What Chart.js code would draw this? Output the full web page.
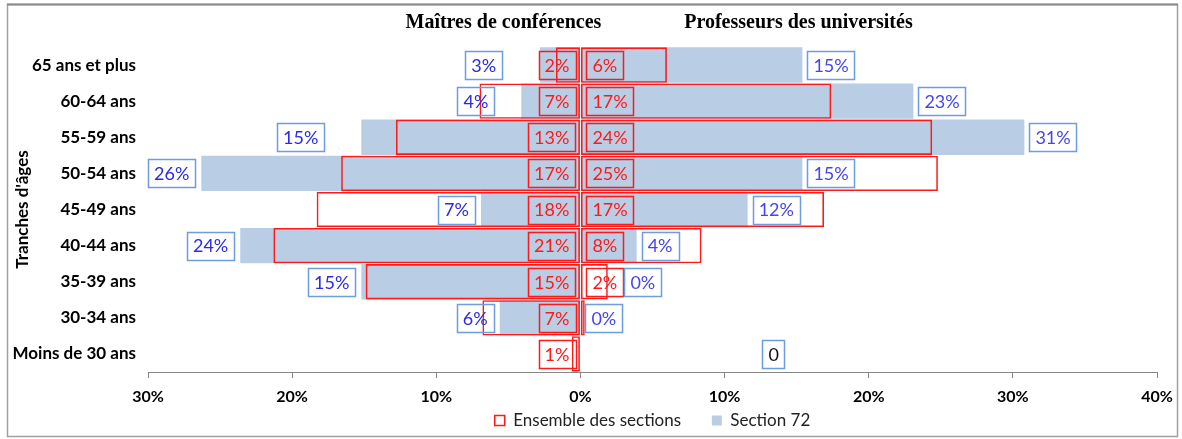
<!DOCTYPE html>
<html><head><meta charset="utf-8">
<script src="https://cdn.jsdelivr.net/npm/chart.js@4.4.1/dist/chart.umd.min.js"></script>
<style>html,body{margin:0;padding:0;background:#fff;overflow:hidden}#wrap{position:relative;width:1182px;height:439px}</style>
</head><body><div id="wrap"><canvas id="c" width="1182" height="439"></canvas></div>
<script>
// ---- data (percent) ----
const categories = ['65 ans et plus','60-64 ans','55-59 ans','50-54 ans','45-49 ans','40-44 ans','35-39 ans','30-34 ans','Moins de 30 ans'];
const mcfEnsemble   = [1.7, 7.0, 12.8, 16.6, 18.3, 21.3, 14.9, 6.8, 0.6];
const profEnsemble  = [6.0, 17.4, 24.4, 24.8, 16.9, 8.4, 1.9, 0.3, 0];
const mcfSection72  = [2.8, 4.1, 15.2, 26.3, 6.9, 23.6, 15.2, 5.6, null];
const profSection72 = [15.4, 23.1, 30.8, 15.4, 11.6, 3.9, 0, 0, 0];
const profSection72Text = {8: '0'};
const xTickValues = [-30, -20, -10, 0, 10, 20, 30, 40];
const seriesNames = ['Ensemble des sections', 'Section 72'];
const groupTitles = ['Maîtres de conférences', 'Professeurs des universités'];
const axisTitle = "Tranches d'âges";

// ---- style ----
const RED = '#ff1a1a';
const BLUE_FILL = '#b9cde4';
const BLUE_BORDER = '#6d9de0';
const labelNudgeMcf72 = {0: -32, 1: -21, 2: -31};
const labelNudgeProf72 = {6: 39, 8: 177};

const neg = a => a.map(v => v == null ? null : -v);
const common = {grouped: false, barPercentage: 0.98, categoryPercentage: 1};

const datasets = [
  Object.assign({label: seriesNames[0], data: neg(mcfEnsemble), src: mcfEnsemble, kind: 'red', side: -1,
    backgroundColor: 'rgba(0,0,0,0)', borderColor: RED, borderWidth: 1.6, borderSkipped: false}, common),
  Object.assign({label: seriesNames[0], data: profEnsemble, src: profEnsemble, kind: 'red', side: 1,
    backgroundColor: 'rgba(0,0,0,0)', borderColor: RED, borderWidth: 1.6, borderSkipped: false}, common),
  Object.assign({label: seriesNames[1], data: neg(mcfSection72), src: mcfSection72, kind: 'blue', side: -1,
    nudge: labelNudgeMcf72, backgroundColor: BLUE_FILL, borderWidth: 0}, common),
  Object.assign({label: seriesNames[1], data: profSection72, src: profSection72, kind: 'blue', side: 1,
    nudge: labelNudgeProf72, textOverride: profSection72Text, backgroundColor: BLUE_FILL, borderWidth: 0}, common)
];

const framePlugin = {
  id: 'frame',
  beforeDraw(chart) {
    const ctx = chart.ctx;
    ctx.save();
    ctx.fillStyle = '#fff';
    ctx.fillRect(0, 0, chart.width, chart.height);
    ctx.strokeStyle = '#a0a0a0';
    ctx.lineWidth = 1.5;
    ctx.strokeRect(7.5, 4.5, 1170, 432);
    ctx.strokeStyle = '#8a8a8a';
    ctx.lineWidth = 2;
    ctx.beginPath(); ctx.moveTo(7, 4.5); ctx.lineTo(1178, 4.5); ctx.stroke();
    ctx.restore();
  },
  afterDraw(chart) {
    const ctx = chart.ctx;
    const zero = chart.scales.x.getPixelForValue(0);
    ctx.save();
    ctx.font = 'bold 20px "Liberation Serif"';
    ctx.fillStyle = '#000';
    ctx.textBaseline = 'middle';
    ctx.textAlign = 'center';
    ctx.fillText(groupTitles[0], zero - 77, 23);
    ctx.fillText(groupTitles[1], zero + 218, 23);
    ctx.restore();
  }
};

const labelPlugin = {
  id: 'valueLabels',
  afterDatasetsDraw(chart) {
    const ctx = chart.ctx;
    const zero = chart.scales.x.getPixelForValue(0);
    ctx.save();
    ctx.font = '18px Lato';
    ctx.textBaseline = 'middle';
    ctx.textAlign = 'center';
    chart.data.datasets.forEach((ds, di) => {
      const meta = chart.getDatasetMeta(di);
      meta.data.forEach((bar, i) => {
        const v = ds.src[i];
        if (v == null) return;
        if (ds.kind === 'red' && Math.round(v) === 0) return;
        const text = (ds.textOverride && ds.textOverride[i] != null) ? ds.textOverride[i] : Math.round(v) + '%';
        const w = ctx.measureText(text).width + 12, h = 28;
        let left;
        if (ds.kind === 'red') left = ds.side < 0 ? zero - 5 - w : zero + 6;
        else left = ds.side < 0 ? bar.x - 6 - w : bar.x + 5;
        left += (ds.nudge && ds.nudge[i]) || 0;
        const top = bar.y - h / 2;
        ctx.lineWidth = 1.5;
        if (ds.kind === 'red') { ctx.strokeStyle = RED; ctx.fillStyle = RED; }
        else { ctx.strokeStyle = BLUE_BORDER; ctx.fillStyle = ds.side < 0 ? '#2a2ae8' : '#4444f0'; }
        if (ds.textOverride && ds.textOverride[i] != null) ctx.fillStyle = '#111';
        ctx.strokeRect(Math.round(left) + 0.5, Math.round(top) + 0.5, Math.round(w), h);
        ctx.fillText(text, left + w / 2, bar.y + 1);
      });
    });
    ctx.restore();
  }
};

const defaultGen = Chart.defaults.plugins.legend.labels.generateLabels;

new Chart(document.getElementById('c'), {
  type: 'bar',
  data: {labels: categories, datasets},
  plugins: [framePlugin, labelPlugin],
  options: {
    indexAxis: 'y',
    responsive: false,
    animation: false,
    devicePixelRatio: 1,
    layout: {padding: {left: 8, right: 25, top: 47, bottom: 0}},
    plugins: {
      tooltip: {enabled: false},
      legend: {
        position: 'bottom',
        fullSize: false,
        labels: {
          font: {family: 'Lato', size: 17},
          color: '#222',
          boxWidth: 10,
          boxHeight: 10,
          padding: 9,
          generateLabels(chart) {
            return defaultGen(chart).filter(it => it.datasetIndex === 0 || it.datasetIndex === 2)
              .map(it => { if (it.datasetIndex === 0) it.text = it.text + '     '; return it; });
          }
        }
      }
    },
    scales: {
      x: {
        min: -30, max: 40,
        afterBuildTicks(s) { s.ticks = xTickValues.map(v => ({value: v})); },
        afterFit(s) { s.height = 31; },
        grid: {display: true, drawOnChartArea: false, drawTicks: true, tickLength: 6, color: '#868686'},
        border: {display: true, color: '#868686', width: 1},
        ticks: {
          padding: 9,
          color: '#000',
          font: {family: 'Lato', size: 16, weight: 'bold'},
          callback: v => Math.abs(v) + '%'
        }
      },
      y: {
        afterFit(s) { s.width = 140; },
        grid: {display: false},
        border: {display: false},
        title: {display: true, text: axisTitle, color: '#000', font: {family: 'Lato', size: 17, weight: 'bold'}, padding: {top: 4, bottom: 0}},
        ticks: {padding: 4, color: '#000', font: {family: 'Lato', size: 17, weight: 'bold'}}
      }
    }
  }
});
</script>
</body></html>
